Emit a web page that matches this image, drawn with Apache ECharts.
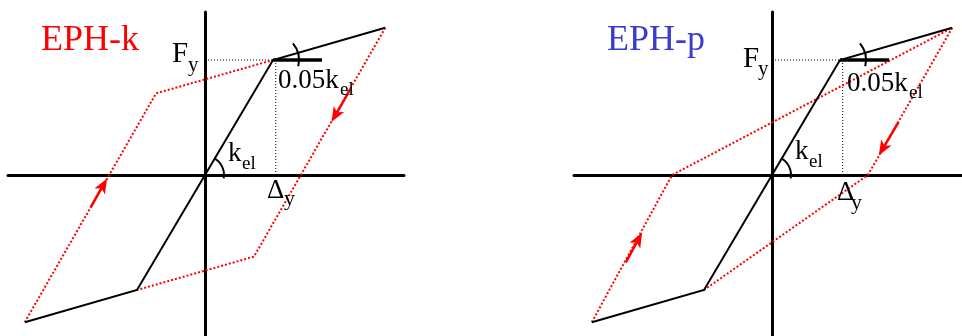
<!DOCTYPE html>
<html>
<head>
<meta charset="utf-8">
<script src="https://cdn.jsdelivr.net/npm/echarts@6/dist/echarts.min.js"></script>
<style>
  html, body { margin: 0; padding: 0; background: #fff; }
  #chart { width: 962px; height: 336px; }
</style>
</head>
<body>
<div id="chart"></div>
<script>
// ---- data (displacement in units of Δy, force in units of Fy) ----
let backbone = [[-2.65, -1.28], [-1, -1], [0, 0], [1, 1], [2.65, 1.28]];
let yieldTangent = [[1, 1], [1.72, 1]];
let guideFy = [[0, 1], [1, 1]];
let guideDy = [[1.04, 1], [1.04, 0]];

// EPH-k: unloading with elastic stiffness, back to the opposite yield point
let ephKDown = [[2.65, 1.28], [0.72, -0.71], [-1, -1]];
let ephKUp = [[-2.65, -1.28], [-0.72, 0.71], [1, 1]];
// EPH-p: peak oriented, reloading aims at the previous peak
let ephPDown = [[2.65, 1.28], [1.41, 0], [-1, -1]];
let ephPUp = [[-2.65, -1.28], [-1.47, 0], [2.65, 1.28]];

// direction arrows: [fromX, fromY, toX, toY]
let arrowsK = [[2.14, 0.75, 1.86, 0.46], [-1.68, -0.28, -1.44, -0.03]];
let arrowsP = [[1.86, 0.46, 1.57, 0.17], [-2.15, -0.76, -1.91, -0.50]];

let arcAnchors = [[0, 0], [1, 1]];

// ---- styles ----
let RED = '#ff0000';
let BLUE = '#3c3ccc';
let SERIF = "'Liberation Serif', 'DejaVu Serif', serif";

let myChart = echarts.init(document.getElementById('chart'));

function axesFor(gridIndex, xmin, xmax) {
  let common = {
    type: 'value',
    gridIndex: gridIndex,
    axisLine: { onZero: true, lineStyle: { color: '#000', width: 3 } },
    axisTick: { show: false },
    axisLabel: { show: false },
    splitLine: { show: false }
  };
  return {
    x: Object.assign({}, common, { min: xmin, max: xmax }),
    y: Object.assign({}, common, { min: -1.4, max: 1.4174 })
  };
}

function lines(gi, coordsList, style) {
  return {
    type: 'lines',
    coordinateSystem: 'cartesian2d',
    xAxisIndex: gi,
    yAxisIndex: gi,
    polyline: true,
    silent: true,
    animation: false,
    lineStyle: style,
    data: coordsList.map(c => ({ coords: c }))
  };
}

// arc radius / angles (deg, canvas orientation) per anchor
let arcStyle = [
  { r: 19, a0: -62, a1: 10 },
  { r: 26, a0: -40, a1: 14 }
];

function arcs(gi) {
  return {
    type: 'custom',
    xAxisIndex: gi,
    yAxisIndex: gi,
    silent: true,
    animation: false,
    data: arcAnchors,
    renderItem: function (params, api) {
      let c = api.coord([api.value(0), api.value(1)]);
      let s = arcStyle[params.dataIndex];
      return {
        type: 'arc',
        shape: { cx: c[0], cy: c[1], r: s.r, startAngle: s.a0 * Math.PI / 180, endAngle: s.a1 * Math.PI / 180, clockwise: true },
        style: { stroke: '#000', lineWidth: 2, fill: null }
      };
    }
  };
}

function arrowSeries(gi, arrows) {
  let headLen = 15, headHalf = 6;
  return {
    type: 'custom',
    xAxisIndex: gi,
    yAxisIndex: gi,
    silent: true,
    animation: false,
    data: arrows,
    renderItem: function (params, api) {
      let p1 = api.coord([api.value(0), api.value(1)]);
      let p2 = api.coord([api.value(2), api.value(3)]);
      let dx = p2[0] - p1[0], dy = p2[1] - p1[1];
      let len = Math.sqrt(dx * dx + dy * dy);
      dx /= len; dy /= len;
      let nx = -dy, ny = dx;
      let bx = p2[0] - dx * headLen, by = p2[1] - dy * headLen;
      let mx = p2[0] - dx * headLen * 0.75, my = p2[1] - dy * headLen * 0.75;
      return {
        type: 'group',
        children: [
          {
            type: 'line',
            shape: { x1: p1[0], y1: p1[1], x2: mx, y2: my },
            style: { stroke: RED, lineWidth: 2.5 }
          },
          {
            type: 'polygon',
            shape: { points: [[p2[0], p2[1]], [bx + nx * headHalf, by + ny * headHalf], [mx, my], [bx - nx * headHalf, by - ny * headHalf]] },
            style: { fill: RED, stroke: null }
          }
        ]
      };
    }
  };
}

function panel(gi, loops, arrows) {
  return [
    lines(gi, [guideFy, guideDy], { color: '#000', width: 1, type: [1, 2], opacity: 1 }),
    lines(gi, loops, { color: RED, width: 2, type: [2, 2], opacity: 1 }),
    lines(gi, [backbone], { color: '#000', width: 2, type: 'solid', opacity: 1 }),
    lines(gi, [yieldTangent], { color: '#000', width: 3.5, type: 'solid', opacity: 1 }),
    arrowSeries(gi, arrows),
    arcs(gi)
  ];
}

// text labels: [x, baseline, text, size, color]
let labelSpecs = [
  [41, 53, 'EPH-k', 36, RED],
  [172, 64, 'F', 29, '#000'], [188, 73, 'y', 21, '#000'],
  [278, 90, '0.05k', 27, '#000'], [340, 96, 'el', 19, '#000'],
  [228, 163, 'k', 27, '#000'], [242, 170, 'el', 19, '#000'],
  [267, 200, 'Δ', 27, '#000'], [284, 207, 'y', 22, '#000'],

  [607, 53, 'EPH-p', 36, BLUE],
  [743, 69, 'F', 29, '#000'], [758, 77, 'y', 21, '#000'],
  [847, 93, '0.05k', 27, '#000'], [909, 99, 'el', 19, '#000'],
  [795, 161, 'k', 27, '#000'], [809, 168, 'el', 19, '#000'],
  [837, 202, 'Δ', 27, '#000'], [851, 211, 'y', 22, '#000']
];

let graphics = labelSpecs.map(l => ({
  type: 'text',
  x: l[0],
  y: l[1] - 0.34 * l[3],
  silent: true,
  z: 100,
  style: {
    text: l[2],
    fontFamily: SERIF,
    fontSize: l[3],
    fill: l[4],
    verticalAlign: 'middle',
    align: 'left'
  }
}));

let a0 = axesFor(0, -2.897, 2.926);
let a1 = axesFor(1, -2.912, 2.794);

option = {
  backgroundColor: '#fff',
  animation: false,
  grid: [
    { left: 8, top: 12, width: 396, height: 324 },
    { left: 574, top: 12, width: 388, height: 324 }
  ],
  xAxis: [a0.x, a1.x],
  yAxis: [a0.y, a1.y],
  graphic: graphics,
  series: [].concat(
    panel(0, [ephKDown, ephKUp], arrowsK),
    panel(1, [ephPDown, ephPUp], arrowsP)
  )
};
myChart.setOption(option);
</script>
</body>
</html>
